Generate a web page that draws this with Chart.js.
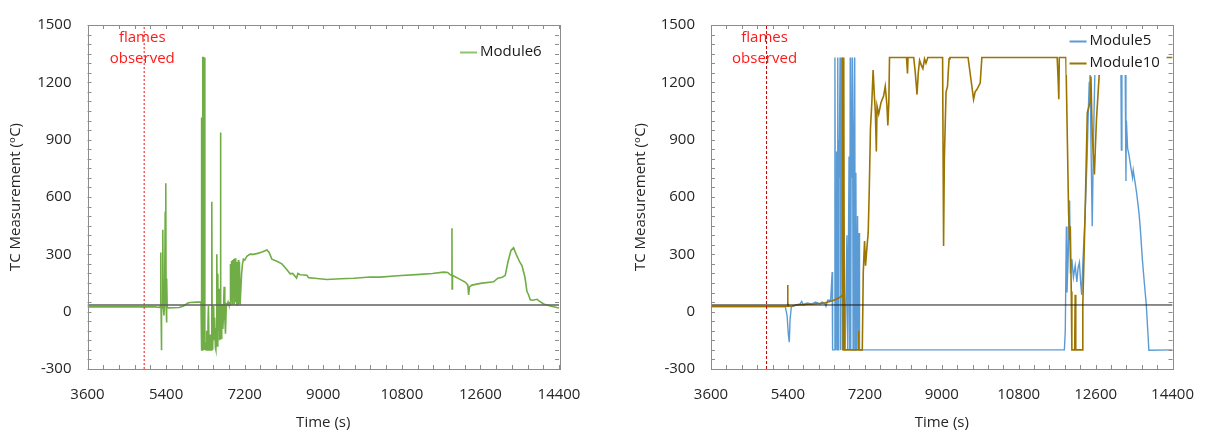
<!DOCTYPE html>
<html>
<head>
<meta charset="utf-8">
<script src="https://cdn.jsdelivr.net/npm/chart.js@4.4.1/dist/chart.umd.min.js"></script>
<style>
  html, body { margin: 0; padding: 0; background: #ffffff; }
  #wrap { position: relative; width: 1211px; height: 433px; overflow: hidden; }
  #c1 { position: absolute; left: 0; top: 0; }
  #c2 { position: absolute; left: 605px; top: 0; }
</style>
</head>
<body>
<div id="wrap">
  <canvas id="c1" width="605" height="433"></canvas>
  <canvas id="c2" width="606" height="433"></canvas>
</div>
<script>
// ---------- data ----------
const xTickLabels = [3600, 5400, 7200, 9000, 10800, 12600, 14400];
const yTickLabels = [-300, 0, 300, 600, 900, 1200, 1500];
const flameTime = 4900;
const refLevel = 35;

const m6T = [3600,5150,5250,5270,5278,5285,5292,5300,5310,5324,5335,5350,5365,5380,5393,5400,5410,5416,5425,5450,5700,5800,5900,5950,6100,6200,6210,6218,6235,6240,6255,6260,6270,6285,6290,6310,6320,6330,6345,6360,6370,6385,6400,6410,6420,6430,6447,6455,6462,6470,6480,6490,6498,6505,6512,6520,6530,6540,6550,6562,6575,6585,6592,6600,6608,6615,6622,6630,6638,6645,6655,6662,6670,6680,6690,6700,6710,6720,6730,6745,6760,6780,6800,6820,6840,6867,6875,6890,6900,6915,6925,6940,6950,6965,6980,6995,7005,7020,7040,7055,7065,7080,7095,7110,7130,7150,7172,7200,7250,7326,7400,7500,7600,7709,7760,7823,7950,8052,8150,8243,8300,8388,8420,8473,8560,8626,8663,8800,9083,9400,9700,10076,10306,10700,11222,11500,11756,11850,11900,11940,11948,11952,11960,12000,12100,12250,12310,12330,12350,12406,12600,12901,13000,13100,13169,13230,13300,13360,13420,13500,13551,13620,13666,13700,13742,13800,13895,13950,14047,14200,14400];
const m6V = [25,25,22,30,310,20,-202,40,20,428,30,-20,40,520,672,40,-57,173,25,20,22,30,45,48,50,50,1016,-200,-200,1330,1330,-200,1330,1330,-200,-160,-200,-100,-200,-60,30,-200,-140,-120,-200,-200,575,-50,-180,-200,-60,30,-120,-150,-40,-30,-190,-200,-90,300,-180,198,-60,-100,40,120,-150,-60,20,937,30,-140,-80,10,40,-90,-40,60,130,-30,-115,40,35,50,35,35,250,60,265,40,270,100,275,35,280,50,260,35,35,270,40,260,35,35,200,250,275,270,290,301,300,305,312,323,310,275,262,250,225,198,200,176,200,193,192,190,178,175,168,172,175,181,181,188,195,200,207,205,195,190,437,119,190,185,173,155,140,88,130,139,148,156,175,180,190,260,320,335,300,260,241,180,105,90,62,60,65,55,40,30,19];

const m5T = [3600,5340,5380,5410,5432,5450,5480,5600,5680,5722,5760,5850,5950,6050,6150,6200,6260,6290,6330,6400,6435,6445,6480,6500,6515,6530,6540,6550,6566,6580,6590,6600,6620,6635,6650,6665,6680,6700,6720,6740,6780,6800,6830,6845,6858,6870,6880,6890,6911,6925,6940,6963,6975,6990,7005,7030,7045,7065,7075,11869,11890,11915,11930,11960,11991,12010,12044,12080,12122,12160,12190,12221,12250,12274,12300,12352,12400,12428,12450,12467,12490,12520,12550,12582,12620,13190,13203,13215,13290,13309,13320,13348,13380,13420,13463,13480,13520,13560,13616,13650,13693,13740,13785,13820,13846,14400];
const m5V = [25,25,-20,-120,-160,-40,25,35,40,54,35,45,40,50,40,50,45,28,60,60,207,-200,-200,1330,-200,600,838,-200,1330,-200,900,700,1330,-200,850,1330,-200,500,100,-200,400,-200,812,-200,1330,-200,1000,700,1330,-200,800,1330,-200,727,-200,500,-200,411,-200,-200,-100,446,100,300,582,200,275,180,241,156,230,258,150,88,250,497,800,1042,1200,1330,900,447,900,1247,1330,1330,846,1330,1330,684,1000,855,820,760,701,740,680,620,514,420,275,150,37,-100,-202,-200];

const m10T = [3600,5380,5393,5400,5410,5500,5600,5800,6000,6260,6400,6500,6650,6670,6680,6692,6700,6712,6720,7040,7050,7060,7140,7163,7193,7216,7239,7278,7301,7331,7363,7393,7423,7446,7469,7485,7524,7577,7638,7677,7715,7738,7761,7777,8175,8198,8210,8343,8380,8421,8450,8481,8520,8558,8596,8630,8673,9019,9042,9060,9100,9134,9150,9171,9190,9615,9680,9744,9780,9821,9899,9938,11700,11725,11738,11750,11905,11968,11991,12007,12030,12044,12110,12122,12135,12297,12300,12352,12405,12467,12490,12520,12572,12590,12620,12700,12720,14400];
const m10V = [28,28,139,50,28,30,35,38,40,45,55,62,79,85,1330,-200,1330,1330,-200,-200,-100,-200,-200,207,369,241,309,412,616,957,1093,1264,1128,1042,838,1076,1034,1093,1128,1179,1085,974,1093,1330,1330,1247,1330,1330,1250,1136,1250,1315,1290,1272,1323,1300,1330,1330,344,800,1150,1179,1247,1323,1330,1330,1220,1111,1150,1162,1196,1330,1330,1200,1112,1330,1330,513,377,447,105,-200,-200,88,-200,-200,37,497,1042,1093,1230,923,718,838,1008,1298,1330,1330];

// ---------- helpers ----------
const pts = (t, v) => t.map((x, i) => ({ x: x, y: v[i] }));
const FONT = "'Open Sans', 'DejaVu Sans', sans-serif";
const FS = 15;
Chart.defaults.font.family = FONT;
Chart.defaults.font.size = FS;
Chart.defaults.color = '#262626';

const framePlugin = {
  id: 'frameTicks',
  afterDatasetsDraw(chart) {
    const { ctx, chartArea: a, scales } = chart;
    const xs = scales.x, ys = scales.y;
    ctx.save();
    ctx.strokeStyle = '#8c8c8c';
    ctx.lineWidth = 1;
    ctx.beginPath();
    for (let t = 3600; t <= 14400; t += 360) {
      const px = Math.round(xs.getPixelForValue(t)) + 0.5;
      ctx.moveTo(px, a.bottom); ctx.lineTo(px, a.bottom - 4);
      ctx.moveTo(px, a.top); ctx.lineTo(px, a.top + 4);
    }
    for (let v = -300; v <= 1500; v += 50) {
      const py = Math.round(ys.getPixelForValue(v)) + 0.5;
      ctx.moveTo(a.left, py); ctx.lineTo(a.left + 4, py);
      ctx.moveTo(a.right, py); ctx.lineTo(a.right - 4, py);
    }
    ctx.stroke();
    ctx.strokeRect(Math.round(a.left) + 0.5, Math.round(a.top) + 0.5,
                   Math.round(a.right - a.left), Math.round(a.bottom - a.top));
    ctx.restore();
  }
};

const notePlugin = {
  id: 'flameNote',
  afterDatasetsDraw(chart) {
    const { ctx, scales } = chart;
    const px = scales.x.getPixelForValue(flameTime) - 2;
    ctx.save();
    ctx.fillStyle = '#ff1a1a';
    ctx.font = FS + 'px ' + FONT;
    ctx.textAlign = 'center';
    ctx.textBaseline = 'middle';
    ctx.fillText('flames', px, 38);
    ctx.fillText('observed', px, 59);
    ctx.restore();
  }
};

const legendPlugin = {
  id: 'boxLegend',
  afterDatasetsDraw(chart, args, opts) {
    const { ctx, chartArea: a } = chart;
    ctx.save();
    if (opts.box) {
      ctx.fillStyle = '#ffffff';
      ctx.fillRect(a.right - opts.box[0], opts.box[1], opts.box[2], opts.box[3]);
    }
    ctx.font = FS + 'px ' + FONT;
    ctx.textBaseline = 'middle';
    ctx.textAlign = 'left';
    opts.items.forEach((it, i) => {
      const y = opts.y + i * 22;
      const x0 = a.right - opts.dx;
      ctx.strokeStyle = it.color;
      ctx.lineWidth = 2;
      ctx.beginPath(); ctx.moveTo(x0, y + 0.5); ctx.lineTo(x0 + 17, y + 0.5); ctx.stroke();
      ctx.fillStyle = '#1a1a1a';
      ctx.fillText(it.label, x0 + 20, y);
    });
    ctx.restore();
  }
};

function makeOptions(padLeft, padRight, yWidth, legendOpts) {
  return {
    responsive: false,
    animation: false,
    events: [],
    layout: { padding: { left: padLeft, right: padRight, top: 17, bottom: 0 } },
    plugins: {
      legend: { display: false },
      tooltip: { enabled: false },
      boxLegend: legendOpts
    },
    elements: { point: { radius: 0 }, line: { tension: 0 } },
    scales: {
      x: {
        type: 'linear', min: 3600, max: 14400,
        afterBuildTicks: s => { s.ticks = xTickLabels.map(v => ({ value: v })); },
        afterFit: s => { s.height = 64; },
        grid: { display: false, drawTicks: false },
        border: { display: false },
        ticks: { padding: 17, maxRotation: 0, color: '#262626', font: { size: FS }, callback: v => String(v) },
        title: { display: true, text: 'Time (s)', color: '#262626', font: { size: FS }, padding: { top: 4, bottom: 1 } }
      },
      y: {
        type: 'linear', min: -300, max: 1500,
        afterBuildTicks: s => { s.ticks = yTickLabels.map(v => ({ value: v })); },
        afterFit: s => { s.width = yWidth; },
        grid: { display: false, drawTicks: false },
        border: { display: false },
        ticks: { padding: 16, color: '#262626', font: { size: FS }, callback: v => String(v) },
        title: { display: true, text: 'TC Measurement (ᵒC)', color: '#262626', font: { size: FS }, padding: { top: 4, bottom: 4 } }
      }
    }
  };
}

// ---------- left chart ----------
new Chart(document.getElementById('c1'), {
  type: 'line',
  data: {
    datasets: [
      { label: 'ref', data: pts([3600, 14400], [refLevel, refLevel]), borderColor: '#5f5f5f', borderWidth: 1.5, order: -2 },
      { label: 'flames', data: pts([flameTime, flameTime], [-300, 1500]), borderColor: 'rgba(255,40,40,0.75)', borderWidth: 1.5, borderDash: [2, 2], order: -1 },
      { label: 'Module6', data: pts(m6T, m6V), borderColor: '#70AD47', borderWidth: 1.6, order: 1 }
    ]
  },
  options: makeOptions(3, 46, 84.5, { y: 52, dx: 99, items: [{ label: 'Module6', color: '#8fc46a' }] }),
  plugins: [legendPlugin, framePlugin, notePlugin]
});

// ---------- right chart ----------
new Chart(document.getElementById('c2'), {
  type: 'line',
  data: {
    datasets: [
      { label: 'ref', data: pts([3600, 14400], [refLevel, refLevel]), borderColor: '#1a1a1a', borderWidth: 1, order: -2 },
      { label: 'flames', data: pts([flameTime, flameTime], [-300, 1500]), borderColor: '#c00000', borderWidth: 1, borderDash: [3, 2], order: -1 },
      { label: 'Module10', data: pts(m10T, m10V), borderColor: '#9C7400', borderWidth: 1.6, order: 1 },
      { label: 'Module5', data: pts(m5T, m5V), borderColor: '#5B9BD5', borderWidth: 1.4, order: 2 }
    ]
  },
  options: makeOptions(23, 28, 83, { y: 41, dx: 103, box: [106, 28, 100, 47],
    items: [{ label: 'Module5', color: '#5B9BD5' }, { label: 'Module10', color: '#9C7400' }] }),
  plugins: [legendPlugin, framePlugin, notePlugin]
});
</script>
</body>
</html>
